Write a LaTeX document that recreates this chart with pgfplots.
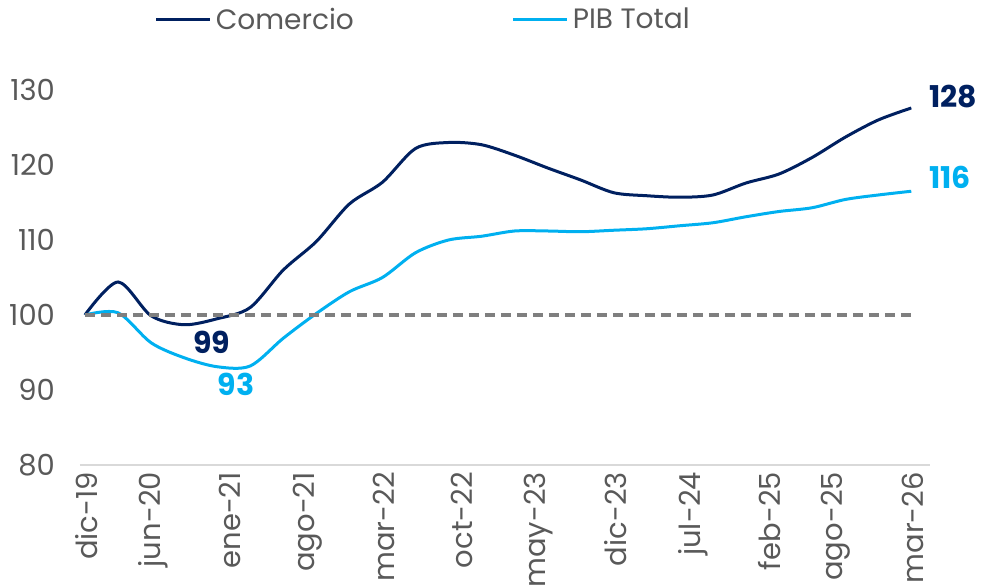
\documentclass[border=0pt]{standalone}
\usepackage{pgfplots}
\pgfplotsset{compat=1.18}
\usepackage{fontspec}
\setmainfont{Poppins}
\definecolor{navy}{HTML}{002060}
\definecolor{cyanb}{HTML}{00B0F0}
\definecolor{txt}{HTML}{595959}
\definecolor{dashgray}{HTML}{7F7F7F}
\begin{document}
\begin{tikzpicture}
\useasboundingbox (-40pt,-61.5pt) rectangle (450.5pt,232.5pt);
\begin{axis}[
  scale only axis, width=425pt, height=187.5pt,
  xmin=-0.45, xmax=76.7, ymin=80, ymax=130,
  clip=false,
  axis x line*=bottom, axis y line*=left,
  y axis line style={draw=none},
  x axis line style={draw=black!15, line width=0.8pt},
  major tick length=0pt,
  ytick={80,90,100,110,120,130},
  xtick={0,6,13,20,27,34,41,48,55,62,68,75},
  xticklabels={dic-19,jun-20,ene-21,ago-21,mar-22,oct-22,may-23,dic-23,jul-24,feb-25,ago-25,mar-26},
  /pgf/number format/assume math mode=true,
  ticklabel style={font=\fontsize{14.5}{16}\selectfont, text=txt},
  yticklabel style={xshift=-9pt},
  xticklabel style={rotate=90, anchor=east, yshift=-1pt},
  legend columns=2,
  legend style={draw=none, fill=none, at={(0.405,1.187)}, anchor=center,
    font=\fontsize{14}{16}\selectfont, text=txt, inner xsep=0pt,
    /tikz/every even column/.append style={column sep=77pt},
    /tikz/every odd column/.append style={column sep=0pt}},
  legend image code/.code={\draw[#1] (0,0) -- (27pt,0);},
]
\addplot[navy, line width=1.5pt, smooth] coordinates {
(0,100) (3,104.4) (6,99.9) (9,98.7) (12,99.5) (15,101.0) (18,106.0) (21,109.8) (24,114.8) (27,117.7)
(30,122.2) (33,123.0) (36,122.7) (39,121.3) (42,119.6) (45,118.0) (48,116.3) (51,115.9) (54,115.7)
(57,116.0) (60,117.6) (63,118.8) (66,121.0) (69,123.7) (72,126.0) (75,127.6)};
\addlegendentry{Comercio}
\addplot[cyanb, line width=1.5pt, smooth] coordinates {
(0,100) (3,100.3) (6,96.3) (9,94.3) (12,93.1) (15,93.2) (18,96.9) (21,100.2) (24,103.1) (27,105.0)
(30,108.3) (33,110.0) (36,110.5) (39,111.2) (42,111.2) (45,111.1) (48,111.3) (51,111.5) (54,111.9)
(57,112.3) (60,113.1) (63,113.8) (66,114.3) (69,115.4) (72,116.0) (75,116.5)};
\addlegendentry{PIB Total}
\addplot[dashgray, line width=1.6pt, dash pattern=on 5pt off 3pt, forget plot] coordinates {(0,100) (75,100)};
\node[anchor=west, text=navy, font=\fontsize{15}{17}\selectfont\bfseries] at (axis cs:76.0,129.1) {128};
\node[anchor=west, text=cyanb, font=\fontsize{15}{17}\selectfont\bfseries] at (axis cs:76.0,118.3) {116};
\node[text=navy, font=\fontsize{15}{17}\selectfont\bfseries] at (axis cs:11.5,96.4) {99};
\node[text=cyanb, font=\fontsize{15}{17}\selectfont\bfseries] at (axis cs:13.7,90.8) {93};
\end{axis}
\end{tikzpicture}
\end{document}
